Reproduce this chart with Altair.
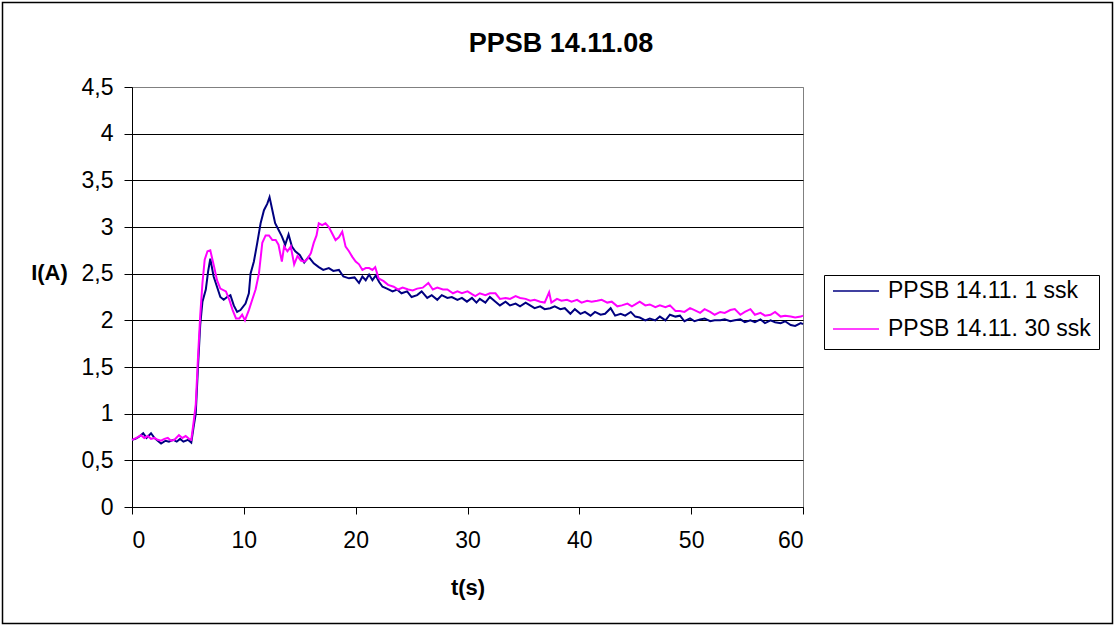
import altair as alt
import pandas as pd

# Current over time, two measurement series (t in seconds, I in amperes)
chart_title = "PPSB 14.11.08"
series_names = ["PPSB 14.11. 1 ssk", "PPSB 14.11. 30 ssk"]
series_colors = ["#000080", "#FF00FF"]

t_1ssk = [0.0, 0.3, 0.6, 1.0, 1.3, 1.7, 2.0, 2.3, 2.6, 3.0, 3.3, 3.7, 4.0, 4.3, 4.6, 5.0, 5.3,
          5.5, 5.7, 5.9, 6.1, 6.3, 6.6, 6.8, 7.0, 7.3, 7.6, 7.9, 8.2, 8.5, 8.8, 9.1, 9.4, 9.7,
          10.15, 10.45, 10.6, 10.9, 11.2, 11.5, 11.8, 12.1, 12.3, 12.55, 12.8, 13.1, 13.4, 13.7,
          14.0, 14.3, 14.6, 15.0, 15.4, 15.8, 16.25, 16.7, 17.1, 17.6, 18.0, 18.5, 18.9, 19.4,
          19.9, 20.3, 20.6, 20.9, 21.2, 21.5, 21.8, 22.1, 22.4, 22.8, 23.3, 23.7, 24.1, 24.6,
          25.0, 25.5, 25.9, 26.4, 26.8, 27.3, 27.7, 28.2, 28.6, 29.1, 29.5, 29.95, 30.4, 30.8,
          31.1, 31.6, 32.0, 32.5, 32.9, 33.4, 33.8, 34.3, 34.7, 35.2, 35.6, 36.0, 36.5, 36.9,
          37.4, 37.8, 38.3, 38.7, 39.2, 39.6, 40.1, 40.5, 41.0, 41.4, 41.9, 42.3, 42.8, 43.2,
          43.7, 44.1, 44.6, 45.0, 45.4, 45.9, 46.3, 46.8, 47.2, 47.7, 48.1, 48.6, 49.0, 49.4,
          49.9, 50.3, 50.8, 51.2, 51.7, 52.1, 52.6, 53.0, 53.5, 53.9, 54.4, 54.8, 55.3, 55.7,
          56.2, 56.6, 57.1, 57.5, 58.0, 58.4, 58.9, 59.3, 59.8, 60.0]
i_1ssk = [0.72, 0.73, 0.75, 0.79, 0.74, 0.79, 0.74, 0.71, 0.68, 0.71, 0.70, 0.72, 0.70, 0.73, 0.70, 0.72, 0.69,
          0.85, 1.00, 1.50, 1.95, 2.20, 2.33, 2.52, 2.66, 2.47, 2.36, 2.25, 2.22, 2.25, 2.27, 2.16, 2.09, 2.11,
          2.18, 2.29, 2.50, 2.63, 2.83, 3.04, 3.18, 3.25, 3.32, 3.18, 3.04, 2.97, 2.90, 2.81,
          2.92, 2.79, 2.74, 2.70, 2.62, 2.68, 2.61, 2.57, 2.54, 2.56, 2.53, 2.54, 2.47, 2.45,
          2.46, 2.40, 2.47, 2.43, 2.49, 2.43, 2.48, 2.41, 2.36, 2.34, 2.31, 2.33, 2.29, 2.31,
          2.25, 2.27, 2.31, 2.24, 2.27, 2.22, 2.27, 2.24, 2.25, 2.22, 2.24, 2.20, 2.24, 2.19,
          2.23, 2.19, 2.25, 2.20, 2.16, 2.20, 2.16, 2.18, 2.15, 2.19, 2.16, 2.13, 2.15, 2.12,
          2.13, 2.15, 2.12, 2.13, 2.07, 2.12, 2.07, 2.09, 2.05, 2.09, 2.06, 2.07, 2.13, 2.05,
          2.07, 2.05, 2.09, 2.04, 2.03, 2.00, 2.02, 2.00, 2.04, 2.00, 2.06, 2.04, 2.05, 1.99,
          2.02, 1.99, 2.01, 2.02, 1.99, 2.00, 2.00, 2.01, 1.99, 2.00, 2.01, 1.98, 2.00, 1.98,
          2.01, 1.97, 2.00, 1.98, 1.97, 1.99, 1.95, 1.94, 1.97, 1.96]

t_30ssk = [0.0, 0.4, 0.8, 1.1, 1.4, 1.7, 2.0, 2.3, 2.6, 2.9, 3.2, 3.5, 3.8, 4.2, 4.5, 4.8, 5.1, 5.3,
           5.5, 5.7, 5.9, 6.1, 6.3, 6.5, 6.75, 7.0, 7.35, 7.6, 7.9, 8.4, 8.7, 9.0, 9.3, 9.6, 9.85,
           10.1, 10.45, 10.75, 11.05, 11.35, 11.65, 11.95, 12.25, 12.55, 12.85, 13.1, 13.4, 13.6,
           13.9, 14.2, 14.5, 14.8, 15.1, 15.4, 15.7, 16.0, 16.25, 16.5, 16.7, 17.0, 17.3, 17.6,
           17.9, 18.2, 18.5, 18.8, 19.1, 19.4, 19.7, 20.0, 20.3, 20.6, 20.9, 21.2, 21.5, 21.75,
           22.05, 22.5, 22.9, 23.4, 23.8, 24.2, 24.7, 25.1, 25.5, 26.0, 26.5, 26.9, 27.3, 27.8,
           28.2, 28.7, 29.1, 29.5, 30.0, 30.4, 30.7, 31.1, 31.6, 32.0, 32.5, 32.9, 33.4, 33.8,
           34.3, 34.7, 35.2, 35.6, 36.0, 36.5, 36.9, 37.3, 37.5, 38.0, 38.4, 38.9, 39.3, 39.8,
           40.2, 40.7, 41.1, 41.6, 42.0, 42.5, 42.9, 43.4, 43.8, 44.3, 44.7, 45.0, 45.4, 45.9,
           46.3, 46.8, 47.2, 47.7, 48.1, 48.6, 49.0, 49.4, 49.9, 50.3, 50.8, 51.2, 51.7, 52.1,
           52.6, 53.0, 53.5, 53.9, 54.4, 54.8, 55.3, 55.7, 56.2, 56.6, 57.1, 57.5, 58.0, 58.4,
           58.9, 59.3, 59.8, 60.0]
i_30ssk = [0.72, 0.74, 0.77, 0.74, 0.76, 0.73, 0.74, 0.72, 0.71, 0.73, 0.74, 0.71, 0.72, 0.77, 0.74, 0.76, 0.73, 0.72,
           0.90, 1.10, 1.60, 2.05, 2.40, 2.65, 2.74, 2.75, 2.57, 2.43, 2.34, 2.31, 2.22, 2.11, 2.02, 2.02, 2.06,
           2.00, 2.11, 2.22, 2.33, 2.50, 2.83, 2.91, 2.91, 2.86, 2.86, 2.81, 2.63, 2.79,
           2.74, 2.79, 2.60, 2.69, 2.64, 2.63, 2.66, 2.72, 2.83, 2.91, 3.04, 3.02, 3.04, 3.00,
           2.93, 2.86, 2.89, 2.95, 2.79, 2.74, 2.68, 2.63, 2.60, 2.54, 2.56, 2.56, 2.54, 2.57,
           2.45, 2.42, 2.38, 2.36, 2.33, 2.35, 2.33, 2.32, 2.34, 2.35, 2.40, 2.33, 2.35, 2.33,
           2.33, 2.29, 2.31, 2.29, 2.31, 2.28, 2.26, 2.29, 2.27, 2.29, 2.29, 2.23, 2.24, 2.23,
           2.26, 2.24, 2.23, 2.21, 2.22, 2.20, 2.19, 2.30, 2.19, 2.23, 2.21, 2.22, 2.20, 2.22,
           2.19, 2.21, 2.20, 2.21, 2.22, 2.19, 2.20, 2.15, 2.16, 2.18, 2.15, 2.17, 2.20, 2.16,
           2.17, 2.14, 2.16, 2.14, 2.16, 2.10, 2.10, 2.09, 2.13, 2.11, 2.08, 2.12, 2.09, 2.06,
           2.09, 2.08, 2.11, 2.12, 2.06, 2.09, 2.12, 2.06, 2.08, 2.05, 2.06, 2.09, 2.04, 2.05,
           2.04, 2.03, 2.04, 2.05]

x_ticks = [0, 10, 20, 30, 40, 50, 60]
y_ticks = [0, 0.5, 1, 1.5, 2, 2.5, 3, 3.5, 4, 4.5]

df = pd.concat([
    pd.DataFrame({"t": t_1ssk, "I": i_1ssk, "series": series_names[0]}),
    pd.DataFrame({"t": t_30ssk, "I": i_30ssk, "series": series_names[1]}),
], ignore_index=True)

FONT = "Liberation Sans"

lines = alt.Chart(df).mark_line(strokeWidth=2).encode(
    x=alt.X("t:Q",
            scale=alt.Scale(domain=[0, 60], nice=False, zero=False),
            axis=alt.Axis(values=x_ticks, title="t(s)", grid=False,
                          domainColor="black", tickColor="black", tickSize=7,
                          labelFontSize=23, labelPadding=15, labelColor="black",
                          labelFont=FONT, titleFont=FONT, titleFontSize=22,
                          titleFontWeight="bold", titleColor="black",
                          titleY=80, titleBaseline="middle")),
    y=alt.Y("I:Q",
            scale=alt.Scale(domain=[0, 4.5], nice=False),
            axis=alt.Axis(values=y_ticks, title="I(A)",
                          labelExpr="replace(toString(datum.value), '.', ',')",
                          grid=True,
                          gridColor=alt.condition("datum.value == 4.5",
                                                  alt.value("#808080"),
                                                  alt.value("black")),
                          gridWidth=1,
                          domainColor="black", tickColor="black", tickSize=8,
                          labelFontSize=23, labelPadding=11, labelColor="black",
                          labelFont=FONT, titleFont=FONT, titleFontSize=22,
                          titleFontWeight="bold", titleColor="black",
                          titleAngle=0, titleAlign="center", titleBaseline="middle",
                          titleX=-83, titleY=185)),
    color=alt.Color("series:N",
                    scale=alt.Scale(domain=series_names, range=series_colors),
                    legend=alt.Legend(title=None, orient="none",
                                      legendX=692, legendY=188,
                                      symbolType="stroke", symbolSize=2116,
                                      symbolStrokeWidth=1.5,
                                      clipHeight=16, rowPadding=15, padding=8,
                                      labelOffset=8, labelFontSize=23,
                                      labelFont=FONT, labelColor="black",
                                      labelLimit=400,
                                      strokeColor="black", fillColor="white")),
)

# Outer frame around the whole figure
frame = alt.Chart(pd.DataFrame({"frame": [0]})).mark_rect(
    fillOpacity=0, stroke="black", strokeWidth=1.5
).encode(
    x=alt.value(-129.5), x2=alt.value(980.5),
    y=alt.value(-84.5), y2=alt.value(536.5),
)

# Chart heading, centred on the full figure
heading = alt.Chart(pd.DataFrame({"label": [chart_title]})).mark_text(
    font=FONT, fontSize=27, fontWeight="bold", color="black",
    align="center", baseline="alphabetic"
).encode(
    x=alt.value(429), y=alt.value(-35), text="label:N",
)

chart = alt.layer(frame, heading, lines).properties(
    width=671,
    height=420,
    autosize=alt.AutoSizeParams(type="none"),
    padding={"left": 132, "top": 87, "right": 312, "bottom": 119},
    background="white",
).configure_view(stroke="#808080", strokeWidth=1)

chart.save("out.html", embed_options={"renderer": "svg", "actions": False})
